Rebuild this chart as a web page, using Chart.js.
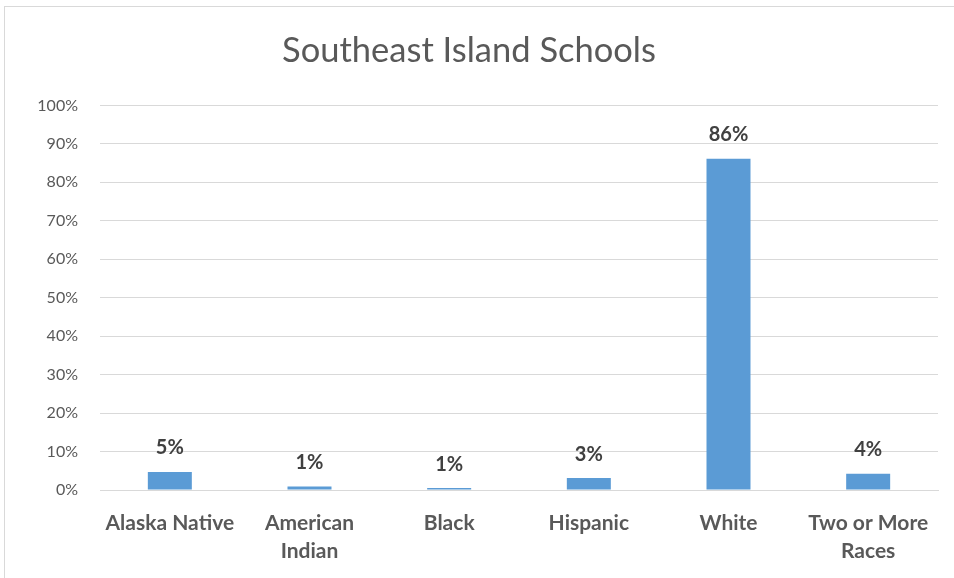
<!DOCTYPE html>
<html>
<head>
<meta charset="utf-8">
<script src="https://cdn.jsdelivr.net/npm/chart.js@4/dist/chart.umd.min.js"></script>
<style>
  html, body { margin: 0; padding: 0; background: #fff; }
  #wrap { position: relative; width: 954px; height: 578px; overflow: hidden; }
  #frame { position: absolute; left: 4px; top: 6px; width: 1000px; height: 700px;
           border-left: 1px solid #d9d9d9; border-top: 1px solid #d9d9d9; }
  canvas { position: absolute; left: 0; top: 0; }
</style>
</head>
<body>
<div id="wrap">
  <div id="frame"></div>
  <canvas id="chart" width="954" height="578"></canvas>
</div>
<script>
/* ── Datos ─────────────────────────────────────────────── */
const CATEGORIES = [
  ['Alaska Native'],
  ['American', 'Indian'],
  ['Black'],
  ['Hispanic'],
  ['White'],
  ['Two or More', 'Races'],
];
const SHARES = [4.7, 0.9, 0.5, 3.1, 86.1, 4.2];
const Y_MAX  = 100;
const Y_STEP = 10;

const FONT = "Lato, 'Open Sans', 'Liberation Sans', sans-serif";
const GREY = '#595959';
const GRID = '#d9d9d9';
const BAR  = '#5b9bd5';

/* ── Etiquetas de valor encima de cada barra ───────────── */
const barLabels = {
  id: 'barLabels',
  afterDatasetsDraw(chart) {
    const { ctx } = chart;
    const meta = chart.getDatasetMeta(0);
    ctx.save();
    ctx.font = `bold 20px ${FONT}`;
    ctx.fillStyle = '#404040';
    ctx.textAlign = 'center';
    ctx.textBaseline = 'middle';
    meta.data.forEach((bar, i) => {
      ctx.fillText(Math.round(SHARES[i]) + '%', bar.x, bar.y - 24);
    });
    ctx.restore();
  },
};

new Chart(document.getElementById('chart'), {
  type: 'bar',
  data: {
    labels: CATEGORIES,
    datasets: [{
      data: SHARES,
      backgroundColor: BAR,
      borderWidth: 0,
      barPercentage: 0.315,
      categoryPercentage: 1,
    }],
  },
  options: {
    responsive: false,
    animation: false,
    layout: { padding: { left: 0, right: 16, top: 0, bottom: 0 } },
    scales: {
      x: {
        grid: { display: false, drawTicks: false },
        border: { color: GRID, width: 1 },
        ticks: { color: GREY, padding: 19, font: { family: FONT, size: 21, weight: 'bold', lineHeight: 1.34 } },
        afterFit: s => { s.height = 88; },
      },
      y: {
        min: 0, max: Y_MAX,
        grid: { color: GRID, lineWidth: 1, drawTicks: false },
        border: { display: false },
        ticks: {
          stepSize: Y_STEP, color: GREY, padding: 22,
          font: { family: FONT, size: 16 },
          callback: v => v + '%',
        },
        afterFit: s => { s.width = 100; },
      },
    },
    plugins: {
      legend: { display: false },
      tooltip: { enabled: false },
      title: {
        display: true,
        text: 'Southeast Island Schools',
        color: GREY,
        font: { family: FONT, size: 34.5, weight: 'normal', lineHeight: 1.2 },
        padding: { top: 30, bottom: 34 },
      },
    },
  },
  plugins: [barLabels],
});
</script>
</body>
</html>
